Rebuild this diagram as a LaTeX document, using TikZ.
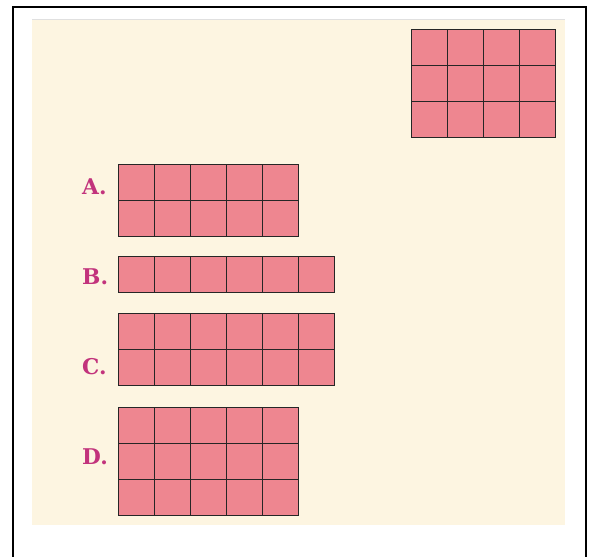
\documentclass[tikz,border=0pt]{standalone}
\usepackage{tikz}
\usepackage{fontspec}
\newfontfamily\choicefont{DejaVu Serif}
\definecolor{cream}{HTML}{FDF5E1}
\definecolor{tilepink}{HTML}{EE8690}
\definecolor{lettermag}{HTML}{C2337C}

\begin{document}
\begin{tikzpicture}[x=0.03cm, y=-0.03cm,
    tile/.style={fill=tilepink, draw=black!85, line width=0.5pt},
    choice/.style={anchor=west, text=lettermag, font=\choicefont\fontsize{18.5}{20}\selectfont\bfseries, inner sep=0pt}]
  \useasboundingbox (0,0) rectangle (599,556);
  % frame and background
  \draw[line width=1.6pt] (13,560) -- (13,7) -- (586,7) -- (586,560);
  \fill[cream] (32,19) rectangle (565,525);
  \draw[black!12, line width=0.6pt] (32,19) -- (565,19);
  % given array: 4 by 3
  \foreach \i in {0,...,3}
    \foreach \j in {0,...,2}
      \draw[tile] (411+36*\i,29+36*\j) rectangle ++(36,36);
  % A: 5 by 2
  \node[choice] (labA) at (82,187) {A.};
  \foreach \i in {0,...,4}
    \foreach \j in {0,...,1}
      \draw[tile] (118+36*\i,164+36*\j) rectangle ++(36,36);
  % B: 6 by 1
  \node[choice] (labB) at (82,277) {B.};
  \foreach \i in {0,...,5}
    \draw[tile] (118+36*\i,256) rectangle ++(36,36);
  % C: 6 by 2
  \node[choice] (labC) at (82,367) {C.};
  \foreach \i in {0,...,5}
    \foreach \j in {0,...,1}
      \draw[tile] (118+36*\i,313+36*\j) rectangle ++(36,36);
  % D: 5 by 3
  \node[choice] (labD) at (82,457) {D.};
  \foreach \i in {0,...,4}
    \foreach \j in {0,...,2}
      \draw[tile] (118+36*\i,407+36*\j) rectangle ++(36,36);
\end{tikzpicture}
\end{document}
